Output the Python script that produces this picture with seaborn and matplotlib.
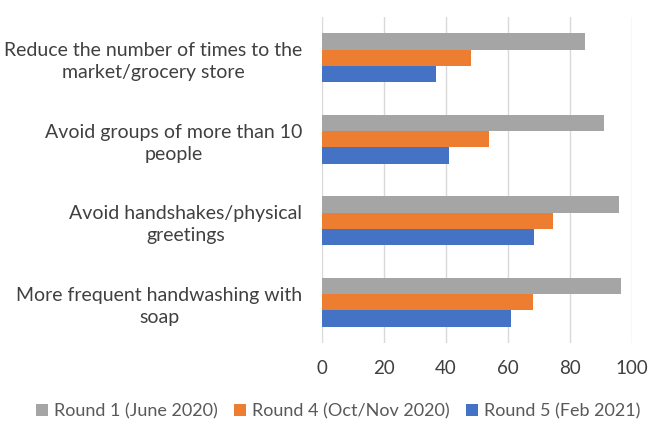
import matplotlib
matplotlib.use("Agg")
import matplotlib.pyplot as plt
import seaborn as sns
import pandas as pd

categories = [
    "Reduce the number of times to the\nmarket/grocery store",
    "Avoid groups of more than 10\npeople",
    "Avoid handshakes/physical\ngreetings",
    "More frequent handwashing with\nsoap",
]
series_names = ["Round 1 (June 2020)", "Round 4 (Oct/Nov 2020)", "Round 5 (Feb 2021)"]
round1 = [85, 91, 96, 96.5]
round4 = [48, 54, 74.5, 68]
round5 = [37, 41, 68.5, 61]
x_ticks = [0, 20, 40, 60, 80, 100]
colors = ["#A5A5A5", "#ED7D31", "#4472C4"]

rows = []
for name, vals in zip(series_names, [round1, round4, round5]):
    for c, v in zip(categories, vals):
        rows.append({"cat": c, "series": name, "value": v})
df = pd.DataFrame(rows)

sns.set_theme(style="white")
plt.rcParams["font.family"] = ["Lato", "DejaVu Sans"]

fig = plt.figure(figsize=(6.5, 4.26), dpi=100)
ax = fig.add_axes([0.495, 0.195, 0.477, 0.765])
sns.barplot(data=df, y="cat", x="value", hue="series", order=categories,
            hue_order=series_names, palette=colors, width=0.6, orient="h",
            ax=ax, saturation=1, edgecolor="none")

ax.set_xlim(0, 100)
ax.set_xticks(x_ticks)
ax.set_xlabel("")
ax.set_ylabel("")
ax.grid(axis="x", color="#D9D9D9", linewidth=1)
ax.set_axisbelow(True)
for s in ax.spines.values():
    s.set_visible(False)
ax.tick_params(axis="x", length=0, labelsize=13.5, colors="#404040", pad=12)
ax.tick_params(axis="y", length=0, labelsize=14, colors="#404040", pad=14)
for lbl in ax.get_yticklabels():
    lbl.set_multialignment("center")
    lbl.set_linespacing(1.35)

handles, labels = ax.get_legend_handles_labels()
ax.get_legend().remove()
fig.legend(handles, labels, loc="center", bbox_to_anchor=(0.52, 0.035), ncol=3,
           frameon=False, fontsize=13, handlelength=0.7, handleheight=0.7,
           handletextpad=0.3, columnspacing=0.9, labelcolor="#595959")

fig.savefig("out.png", dpi=100)
